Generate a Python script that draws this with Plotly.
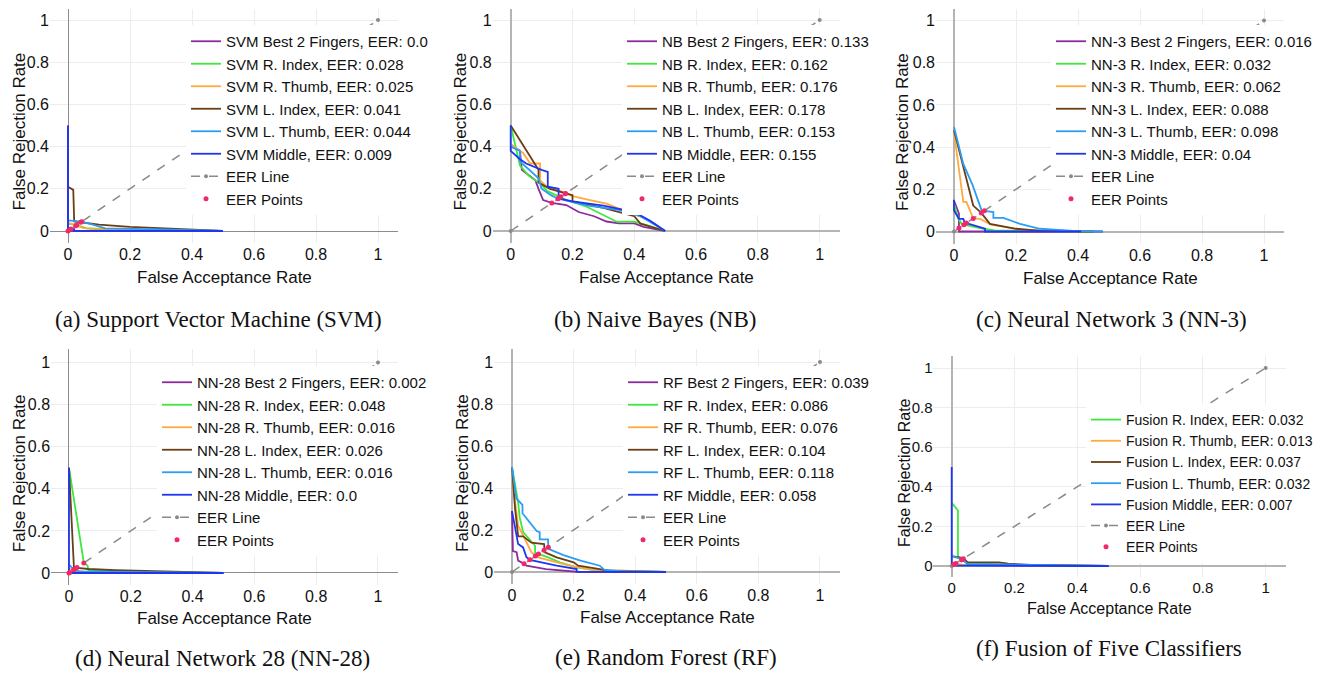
import plotly.graph_objects as go

# ---------------- data ----------------
fingers6 = ["Best 2 Fingers", "R. Index", "R. Thumb", "L. Index", "L. Thumb", "Middle"]
fingers5 = ["R. Index", "R. Thumb", "L. Index", "L. Thumb", "Middle"]
tick_vals = [0, 0.2, 0.4, 0.6, 0.8, 1]
tick_text = ["0", "0.2", "0.4", "0.6", "0.8", "1"]
eer_line_x = [0, 1]
eer_line_y = [0, 1]

# (a) SVM
svm_eer = [0.0, 0.028, 0.025, 0.041, 0.044, 0.009]
svm_far = {
    "Best 2 Fingers": [0, 0, 0.5],
    "R. Index": [0, 0.028, 0.06, 0.12, 0.3, 0.5],
    "R. Thumb": [0, 0.02, 0.025, 0.05, 0.2, 0.5],
    "L. Index": [0, 0.017, 0.02, 0.041, 0.1, 0.2, 0.33, 0.5],
    "L. Thumb": [0, 0.044, 0.08, 0.12, 0.3, 0.43, 0.5],
    "Middle": [0, 0, 0.009, 0.02, 0.02, 0.5],
}
svm_frr = {
    "Best 2 Fingers": [0.5, 0, 0],
    "R. Index": [0.035, 0.028, 0.012, 0.006, 0.003, 0],
    "R. Thumb": [0.04, 0.03, 0.025, 0.014, 0.005, 0],
    "L. Index": [0.21, 0.195, 0.045, 0.041, 0.03, 0.02, 0.01, 0],
    "L. Thumb": [0.05, 0.044, 0.03, 0.012, 0.008, 0.003, 0],
    "Middle": [0.5, 0.009, 0.009, 0.009, 0.001, 0],
}

# (b) NB
nb_eer = [0.133, 0.162, 0.176, 0.178, 0.153, 0.155]
nb_far = {
    "Best 2 Fingers": [0, 0.03, 0.036, 0.06, 0.08, 0.09, 0.105, 0.133, 0.18, 0.22, 0.27, 0.31, 0.35, 0.40, 0.43, 0.5],
    "R. Index": [0, 0.03, 0.06, 0.1, 0.117, 0.162, 0.18, 0.246, 0.30, 0.343, 0.40, 0.44, 0.5],
    "R. Thumb": [0, 0.04, 0.063, 0.095, 0.095, 0.117, 0.16, 0.2, 0.26, 0.31, 0.36, 0.42, 0.46, 0.5],
    "L. Index": [0, 0.09, 0.09, 0.127, 0.178, 0.2, 0.2, 0.3, 0.4, 0.42, 0.5],
    "L. Thumb": [0, 0.03, 0.03, 0.06, 0.09, 0.1, 0.13, 0.153, 0.25, 0.35, 0.42, 0.5],
    "Middle": [0, 0, 0.03, 0.05, 0.1, 0.12, 0.12, 0.155, 0.155, 0.2, 0.3, 0.4, 0.45, 0.5],
}
nb_frr = {
    "Best 2 Fingers": [0.41, 0.38, 0.29, 0.265, 0.24, 0.2, 0.147, 0.133, 0.123, 0.09, 0.07, 0.045, 0.036, 0.036, 0.02, 0],
    "R. Index": [0.5, 0.31, 0.26, 0.22, 0.19, 0.162, 0.147, 0.115, 0.076, 0.044, 0.044, 0.028, 0],
    "R. Thumb": [0.41, 0.37, 0.32, 0.32, 0.24, 0.21, 0.19, 0.165, 0.145, 0.13, 0.1, 0.068, 0.04, 0],
    "L. Index": [0.5, 0.29, 0.23, 0.2, 0.178, 0.17, 0.14, 0.11, 0.07, 0.035, 0],
    "L. Thumb": [0.4, 0.38, 0.33, 0.29, 0.25, 0.2, 0.17, 0.153, 0.12, 0.1, 0.07, 0],
    "Middle": [0.5, 0.38, 0.34, 0.32, 0.29, 0.28, 0.21, 0.2, 0.155, 0.14, 0.12, 0.09, 0.05, 0],
}

# (c) NN-3
nn3_eer = [0.016, 0.032, 0.062, 0.088, 0.098, 0.04]
nn3_far = {
    "Best 2 Fingers": [0, 0.016, 0.016, 0.48],
    "R. Index": [0, 0.014, 0.025, 0.032, 0.095, 0.13, 0.45],
    "R. Thumb": [0, 0.03, 0.04, 0.06, 0.062, 0.084, 0.12, 0.22, 0.4],
    "L. Index": [0, 0.062, 0.088, 0.116, 0.2, 0.28, 0.45],
    "L. Thumb": [0, 0.03, 0.06, 0.089, 0.098, 0.127, 0.127, 0.159, 0.213, 0.277, 0.385, 0.48],
    "Middle": [0, 0, 0.016, 0.03, 0.035, 0.04, 0.1, 0.1, 0.41],
}
nn3_frr = {
    "Best 2 Fingers": [0.147, 0.085, 0, 0],
    "R. Index": [0.13, 0.06, 0.035, 0.032, 0.013, 0.005, 0],
    "R. Thumb": [0.47, 0.14, 0.14, 0.065, 0.062, 0.06, 0.033, 0.008, 0],
    "L. Index": [0.48, 0.123, 0.088, 0.036, 0.013, 0.003, 0],
    "L. Thumb": [0.495, 0.32, 0.22, 0.1, 0.098, 0.092, 0.065, 0.065, 0.036, 0.013, 0.003, 0],
    "Middle": [0.15, 0.1, 0.06, 0.06, 0.04, 0.04, 0.013, 0, 0],
}

# (d) NN-28
nn28_eer = [0.002, 0.048, 0.016, 0.026, 0.016, 0.0]
nn28_far = {
    "Best 2 Fingers": [0, 0.002, 0.01, 0.5],
    "R. Index": [0, 0.048, 0.06, 0.063, 0.2, 0.5],
    "R. Thumb": [0, 0.016, 0.05, 0.5],
    "L. Index": [0, 0.016, 0.026, 0.063, 0.15, 0.5],
    "L. Thumb": [0, 0.016, 0.03, 0.5],
    "Middle": [0, 0, 0.5],
}
nn28_frr = {
    "Best 2 Fingers": [0.01, 0.002, 0.001, 0],
    "R. Index": [0.5, 0.048, 0.035, 0.012, 0.005, 0],
    "R. Thumb": [0.02, 0.016, 0.005, 0],
    "L. Index": [0.5, 0.026, 0.024, 0.019, 0.013, 0],
    "L. Thumb": [0.04, 0.016, 0.008, 0],
    "Middle": [0.5, 0, 0],
}

# (e) RF
rf_eer = [0.039, 0.086, 0.076, 0.104, 0.118, 0.058]
rf_far = {
    "Best 2 Fingers": [0, 0.003, 0.015, 0.02, 0.039, 0.047, 0.11, 0.22, 0.5],
    "R. Index": [0, 0.02, 0.025, 0.036, 0.075, 0.075, 0.086, 0.117, 0.155, 0.21, 0.26, 0.5],
    "R. Thumb": [0, 0.02, 0.036, 0.063, 0.076, 0.085, 0.124, 0.18, 0.26, 0.5],
    "L. Index": [0, 0.01, 0.02, 0.036, 0.063, 0.1, 0.104, 0.107, 0.145, 0.2, 0.215, 0.285, 0.32, 0.5],
    "L. Thumb": [0, 0.014, 0.034, 0.034, 0.08, 0.09, 0.09, 0.117, 0.118, 0.167, 0.22, 0.285, 0.3, 0.36, 0.5],
    "Middle": [0, 0.02, 0.036, 0.047, 0.058, 0.07, 0.1, 0.145, 0.21, 0.21, 0.5],
}
rf_frr = {
    "Best 2 Fingers": [0.29, 0.1, 0.094, 0.054, 0.039, 0.03, 0.014, 0, 0],
    "R. Index": [0.5, 0.33, 0.26, 0.19, 0.125, 0.09, 0.086, 0.07, 0.046, 0.022, 0.01, 0],
    "R. Thumb": [0.45, 0.22, 0.175, 0.094, 0.078, 0.07, 0.054, 0.033, 0.01, 0],
    "L. Index": [0.5, 0.3, 0.17, 0.17, 0.14, 0.133, 0.133, 0.094, 0.07, 0.046, 0.03, 0.014, 0.004, 0],
    "L. Thumb": [0.5, 0.35, 0.32, 0.28, 0.195, 0.19, 0.155, 0.155, 0.11, 0.08, 0.055, 0.03, 0.01, 0.003, 0],
    "Middle": [0.29, 0.133, 0.117, 0.07, 0.058, 0.054, 0.046, 0.03, 0.014, 0.002, 0],
}

# (f) Fusion
fusion_eer = [0.032, 0.013, 0.037, 0.032, 0.007]
fusion_far = {
    "R. Index": [0, 0.02, 0.02, 0.032, 0.05, 0.2, 0.5],
    "R. Thumb": [0, 0.013, 0.04, 0.38, 0.5],
    "L. Index": [0, 0.037, 0.05, 0.15, 0.18, 0.25, 0.5],
    "L. Thumb": [0, 0.032, 0.05, 0.3, 0.5],
    "Middle": [0, 0, 0.007, 0.5],
}
fusion_frr = {
    "R. Index": [0.32, 0.28, 0.05, 0.035, 0.015, 0.005, 0],
    "R. Thumb": [0.02, 0.013, 0.005, 0.003, 0],
    "L. Index": [0.05, 0.04, 0.02, 0.018, 0.012, 0.005, 0],
    "L. Thumb": [0.05, 0.035, 0.01, 0.005, 0],
    "Middle": [0.5, 0.007, 0.002, 0],
}

captions = [
    "(a) Support Vector Machine (SVM)",
    "(b) Naive Bayes (NB)",
    "(c) Neural Network 3 (NN-3)",
    "(d) Neural Network 28 (NN-28)",
    "(e) Random Forest (RF)",
    "(f) Fusion of Five Classifiers",
]

# ---------------- styles / geometry ----------------
COLORS = {
    "Best 2 Fingers": "#8B2C9C",
    "R. Index": "#3DE83D",
    "R. Thumb": "#FFA93F",
    "L. Index": "#6B3E16",
    "L. Thumb": "#2A9DF4",
    "Middle": "#1E36F2",
}
SANS = "Liberation Sans, Arial, Helvetica, sans-serif"
SERIF = "Liberation Serif, Times New Roman, serif"
XR = [-0.058, 1.065]
YR = [-0.057, 1.062]

OFF = 8                      # page body margin of the html page
W, H = 1339 - OFF, 673 - OFF


def px(xp):
    return (xp - OFF) / W


def py(yp):
    return 1 - (yp - OFF) / H


panels = [
    dict(prefix="SVM", fingers=fingers6, eer=svm_eer, far=svm_far, frr=svm_frr,
         x0=68, xs=310, y0=231, ys=211, leg=(186, 25), ytx=19, xty=277, cap=(218, 319),
         zc="#8c8c8c", zw=1, fs=15, tf=16, af=17),
    dict(prefix="NB", fingers=fingers6, eer=nb_eer, far=nb_far, frr=nb_frr,
         x0=510.7, xs=309, y0=231, ys=211, leg=(622, 25), ytx=460, xty=277, cap=(655, 319),
         zc="#b4b4b4", zw=2, fs=15, tf=16, af=17),
    dict(prefix="NN-3", fingers=fingers6, eer=nn3_eer, far=nn3_far, frr=nn3_frr,
         x0=954, xs=310, y0=231.5, ys=211, leg=(1051, 25), ytx=903, xty=278, cap=(1111, 319),
         zc="#b4b4b4", zw=2, fs=15, tf=16, af=17),
    dict(prefix="NN-28", fingers=fingers6, eer=nn28_eer, far=nn28_far, frr=nn28_frr,
         x0=69, xs=309, y0=573, ys=210.5, leg=(157, 366), ytx=19.5, xty=618, cap=(222, 658),
         zc="#8c8c8c", zw=1, fs=15, tf=16, af=17),
    dict(prefix="RF", fingers=fingers6, eer=rf_eer, far=rf_far, frr=rf_frr,
         x0=512, xs=308, y0=572, ys=210, leg=(623, 366), ytx=462, xty=617, cap=(666, 657),
         zc="#b4b4b4", zw=2, fs=15, tf=16, af=17),
    dict(prefix="Fusion", fingers=fingers5, eer=fusion_eer, far=fusion_far, frr=fusion_frr,
         x0=951.7, xs=314, y0=566, ys=198, leg=(1086, 404), ytx=904, xty=608, cap=(1109, 648),
         zc="#b4b4b4", zw=2, fs=14, tf=15, af=16),
]

fig = go.Figure()
annotations = []
layout = dict(
    width=W, height=H, margin=dict(l=0, r=0, t=0, b=0),
    paper_bgcolor="white", plot_bgcolor="white", showlegend=True,
    font=dict(family=SANS, color="#111111"),
)

for i, p in enumerate(panels):
    n = i + 1
    sfx = "" if n == 1 else str(n)
    xa, ya = "x" + sfx, "y" + sfx
    leg = "legend" + sfx

    for j, f in enumerate(p["fingers"]):
        fig.add_trace(go.Scatter(
            x=p["far"][f], y=p["frr"][f], mode="lines",
            line=dict(color=COLORS[f], width=1.8),
            name=f"{p['prefix']} {f}, EER: {p['eer'][j]}",
            xaxis=xa, yaxis=ya, legend=leg,
        ))
    fig.add_trace(go.Scatter(
        x=eer_line_x, y=eer_line_y, mode="lines+markers",
        line=dict(color="#8a8a8a", width=1.5, dash="dash"),
        marker=dict(color="#8a8a8a", size=4),
        name="EER Line", xaxis=xa, yaxis=ya, legend=leg,
    ))
    fig.add_trace(go.Scatter(
        x=p["eer"], y=p["eer"], mode="markers",
        marker=dict(color="#F2286A", size=5),
        name="EER Points", xaxis=xa, yaxis=ya, legend=leg,
    ))

    # keep the plot area inside the page (top edge may not go above the body margin)
    ytop = min(YR[1], (p["y0"] - OFF - 0.5) / p["ys"])
    yrange = [YR[0], ytop]
    xl = px(p["x0"] + XR[0] * p["xs"])
    xr = px(p["x0"] + XR[1] * p["xs"])
    yb = py(p["y0"] - yrange[0] * p["ys"])
    yt = min(1.0, py(p["y0"] - yrange[1] * p["ys"]))
    common = dict(
        tickvals=tick_vals, ticktext=tick_text, showgrid=True, gridcolor="#ededed",
        gridwidth=1, zeroline=True, zerolinecolor=p["zc"], zerolinewidth=p["zw"],
        showline=False, ticks="", tickfont=dict(size=p["tf"], family=SANS, color="#111111"),
        fixedrange=True,
    )
    layout["xaxis" + sfx] = dict(common, domain=[xl, xr], range=XR, anchor=ya)
    layout["yaxis" + sfx] = dict(common, domain=[yb, yt], range=yrange, anchor=xa)
    layout[leg] = dict(
        x=px(p["leg"][0]), y=py(p["leg"][1]), xanchor="left", yanchor="top",
        bgcolor="white", borderwidth=0, tracegroupgap=0,
        font=dict(size=p["fs"], family=SANS, color="#111111"),
    )
    ymid = py(p["y0"] - 0.5 * p["ys"] + 6)
    annotations.append(dict(
        text="False Rejection Rate", textangle=-90, xref="paper", yref="paper",
        x=px(p["ytx"]), y=ymid, xanchor="center", yanchor="middle",
        showarrow=False, font=dict(size=p["af"], family=SANS, color="#111111"),
    ))
    annotations.append(dict(
        text="False Acceptance Rate", xref="paper", yref="paper",
        x=(xl + xr) / 2, y=py(p["xty"]), xanchor="center", yanchor="middle",
        showarrow=False, font=dict(size=p["af"], family=SANS, color="#111111"),
    ))
    annotations.append(dict(
        text=captions[i], xref="paper", yref="paper",
        x=px(p["cap"][0]), y=py(p["cap"][1]), xanchor="center", yanchor="middle",
        showarrow=False, font=dict(size=23, family=SERIF, color="#111111"),
    ))

layout["annotations"] = annotations
fig.update_layout(**layout)
fig.write_html("out.html")
